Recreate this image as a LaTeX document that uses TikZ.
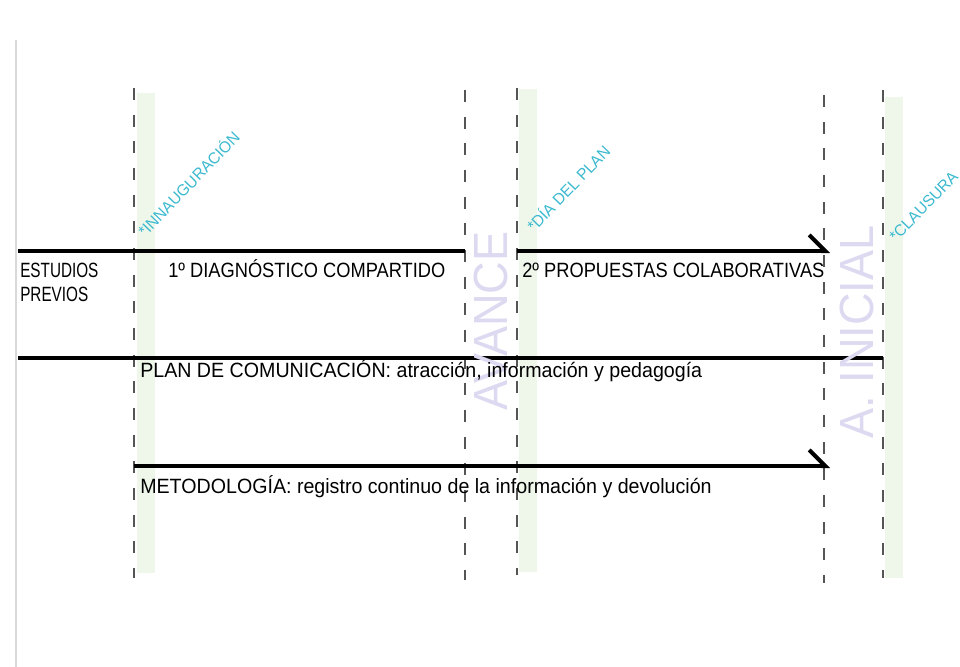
\documentclass[tikz,border=0pt]{standalone}
\usepackage{fontspec}
\setmainfont{Liberation Sans}[FakeStretch=0.884]
\newfontfamily\narrowfont{Liberation Sans}[FakeStretch=0.74]
\newfontfamily\lowfont{Liberation Sans}[FakeStretch=0.95]
\newfontfamily\tagfont{Liberation Sans}[FakeStretch=0.97]
\newfontfamily\bigfont{Liberation Sans}[FakeStretch=0.94]
\usetikzlibrary{arrows.meta}
\definecolor{bandgreen}{HTML}{EEF7EA}
\definecolor{tagcyan}{HTML}{3BB9CF}
\definecolor{milelav}{HTML}{DCD9F1}
\definecolor{dashgray}{HTML}{555555}
\tikzset{
  phase/.style={line width=3pt},
  phasearrow/.style={line width=3pt,-{Straight Barb[left,length=12pt,width=24pt]}},
  cut/.style={dashgray,line width=1.1pt,dash pattern=on 9pt off 11pt},
  band/.style={fill=bandgreen,draw=none},
  lbl/.style={font=\fontsize{15.5}{18}\selectfont,inner sep=0pt,anchor=base west},
  tag/.style={font=\tagfont\fontsize{12}{14}\selectfont,text=tagcyan,inner sep=0pt,anchor=base west,rotate=46},
  mile/.style={font=\bigfont\fontsize{36}{40}\selectfont,text=milelav,inner sep=0pt,rotate=90}
}
\begin{document}
\begin{tikzpicture}[x=0.75pt,y=-0.75pt]
\useasboundingbox (0,0) rectangle (960,667);
\draw[black!15,line width=0.8pt] (16,40) -- (16,667);

% bands
\fill[band] (137,93) rectangle (155,573);
\fill[band] (519,89) rectangle (537,572);
\fill[band] (885,97) rectangle (903,578);

% cuts
\draw[cut] (134,88) -- (134,578);
\draw[cut] (465,90) -- (465,580);
\draw[cut] (517,88) -- (517,575);
\draw[cut] (824,95) -- (824,583);
\draw[cut] (883,90) -- (883,578);

% tags
\node[tag] (inaug) at (145,238) {*INNAUGURACIÓN};
\node[tag] (diaplan) at (534,233) {*DÍA DEL PLAN};
\node[tag] (clausura) at (896,243) {*CLAUSURA};

% phases
\coordinate (p1a) at (18,251);
\coordinate (p1b) at (465,251);
\coordinate (p2a) at (517,251);
\coordinate (p2b) at (830,251);
\coordinate (c1a) at (18,358);
\coordinate (c1b) at (883,358);
\coordinate (m1a) at (134,466);
\coordinate (m1b) at (830,466);
\draw[phase] (p1a) -- (p1b);
\draw[phasearrow] (p2a) -- (p2b);
\draw[phase] (c1a) -- (c1b);
\draw[phasearrow] (m1a) -- (m1b);

% milestones
\node[mile] (avance) at (491,321) {AVANCE};
\node[mile] (inicial) at (857,332) {A. INICIAL};

\node[lbl,font=\narrowfont\fontsize{15.5}{18}\selectfont] (estudios) at (20,277) {ESTUDIOS};
\node[lbl,font=\narrowfont\fontsize{15.5}{18}\selectfont] (previos) at (20,301) {PREVIOS};
\node[lbl] (diag) at (168,277) {1º DIAGNÓSTICO COMPARTIDO};
\node[lbl] (prop) at (522,277) {2º PROPUESTAS COLABORATIVAS};
\node[lbl,font=\lowfont\fontsize{15.5}{18}\selectfont] (plan) at (140,377) {PLAN DE COMUNICACIÓN: atracción, información y pedagogía};
\node[lbl,font=\lowfont\fontsize{15.5}{18}\selectfont] (metodo) at (140,493) {METODOLOGÍA: registro continuo de la información y devolución};
\end{tikzpicture}
\end{document}
